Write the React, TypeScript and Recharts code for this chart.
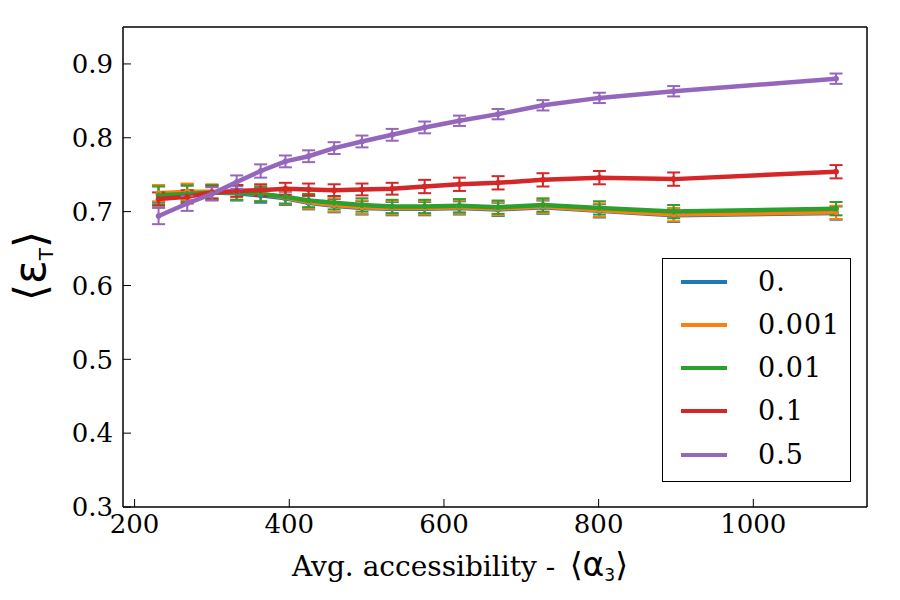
import React from 'react';
import { LineChart, Line, XAxis, YAxis, ErrorBar, Legend } from 'recharts';

const xValues = [231, 268, 300, 332, 363, 395, 425, 458, 494, 533, 575, 620, 670, 728, 801, 897, 1107];

const seriesLabels = ['0.', '0.001', '0.01', '0.1', '0.5'];
const seriesColors = ['#1f77b4', '#ff7f0e', '#2ca02c', '#d62728', '#9467bd'];

const blueValues = [0.724, 0.726, 0.726, 0.725, 0.722, 0.718, 0.712, 0.708, 0.705, 0.704, 0.704, 0.705, 0.703, 0.706, 0.701, 0.695, 0.698];
const blueErrors = [0.011, 0.011, 0.010, 0.010, 0.010, 0.009, 0.009, 0.009, 0.009, 0.009, 0.009, 0.009, 0.009, 0.009, 0.009, 0.009, 0.009];

const orangeValues = [0.725, 0.727, 0.727, 0.726, 0.724, 0.719, 0.713, 0.709, 0.706, 0.705, 0.705, 0.706, 0.704, 0.707, 0.702, 0.696, 0.699];
const orangeErrors = [0.011, 0.011, 0.010, 0.010, 0.010, 0.009, 0.009, 0.009, 0.009, 0.009, 0.009, 0.009, 0.009, 0.009, 0.009, 0.009, 0.009];

const greenValues = [0.722, 0.724, 0.726, 0.726, 0.724, 0.720, 0.715, 0.712, 0.709, 0.707, 0.707, 0.708, 0.706, 0.709, 0.705, 0.700, 0.704];
const greenErrors = [0.012, 0.011, 0.010, 0.010, 0.010, 0.009, 0.009, 0.009, 0.009, 0.009, 0.009, 0.009, 0.009, 0.009, 0.009, 0.009, 0.009];

const redValues = [0.717, 0.720, 0.726, 0.728, 0.729, 0.731, 0.730, 0.729, 0.730, 0.731, 0.734, 0.737, 0.739, 0.743, 0.746, 0.744, 0.754];
const redErrors = [0.009, 0.009, 0.008, 0.008, 0.008, 0.008, 0.008, 0.008, 0.008, 0.008, 0.009, 0.009, 0.009, 0.009, 0.009, 0.009, 0.009];

const purpleValues = [0.694, 0.711, 0.724, 0.740, 0.755, 0.768, 0.775, 0.786, 0.795, 0.804, 0.814, 0.823, 0.832, 0.844, 0.854, 0.863, 0.880];
const purpleErrors = [0.011, 0.010, 0.009, 0.009, 0.009, 0.008, 0.008, 0.008, 0.008, 0.008, 0.008, 0.007, 0.007, 0.007, 0.007, 0.007, 0.007];

const allValues = [blueValues, orangeValues, greenValues, redValues, purpleValues];
const allErrors = [blueErrors, orangeErrors, greenErrors, redErrors, purpleErrors];

const xTicks = [200, 400, 600, 800, 1000];
const yTicks = [0.3, 0.4, 0.5, 0.6, 0.7, 0.8, 0.9];

const data = xValues.map((x, i) => {
  const row: Record<string, number> = { x };
  allValues.forEach((vals, k) => {
    row[`s${k}`] = vals[i];
    row[`e${k}`] = allErrors[k][i];
  });
  return row;
});

const tickFont = { fontFamily: 'DejaVu Serif', fontSize: 26, fill: '#000' };

const XLabel = () => (
  <text x={292} y={576} fontFamily="DejaVu Serif" fontSize={28} fill="#000">
    {'Avg. accessibility -\u00A0\u2009'}
    <tspan fontFamily="DejaVu Sans" fontSize={33}>{'\u27E8\u03B1'}</tspan>
    <tspan fontFamily="DejaVu Sans" fontSize={17} dy={5}>3</tspan>
    <tspan fontFamily="DejaVu Sans" fontSize={33} dy={-5}>{'\u27E9'}</tspan>
  </text>
);

const YLabel = () => (
  <text transform="translate(45, 266) rotate(-90)" x={0} y={0} textAnchor="middle" fontFamily="DejaVu Sans" fontSize={44} fill="#000">
    {'\u27E8\u03B5'}
    <tspan fontSize={20} dy={8}>T</tspan>
    <tspan dy={-8}>{'\u27E9'}</tspan>
  </text>
);

const LegendBox = () => (
  <div
    style={{
      position: 'relative',
      width: 189,
      height: 224,
      border: '1.5px solid #000',
      boxSizing: 'border-box',
      background: '#fff',
    }}
  >
    {seriesLabels.map((label, i) => (
      <div
        key={label}
        style={{ position: 'absolute', left: 0, top: 22.5 + i * 43.3 - 16, height: 32, width: '100%' }}
      >
        <div
          style={{
            position: 'absolute',
            left: 18,
            top: 14,
            width: 46,
            height: 4,
            background: seriesColors[i],
          }}
        />
        <span
          style={{
            position: 'absolute',
            left: 95,
            top: 0,
            lineHeight: '32px',
            fontFamily: 'DejaVu Serif',
            fontSize: 27,
            color: '#000',
            letterSpacing: 1,
            whiteSpace: 'nowrap',
          }}
        >
          {label}
        </span>
      </div>
    ))}
  </div>
);

export default function App() {
  return (
    <div style={{ position: 'absolute', left: 0, top: 0, width: 900, height: 600, background: '#fff' }}>
      <LineChart width={900} height={600} data={data} margin={{ top: 26, right: 32, bottom: 0, left: 0 }}>
        <XAxis
          type="number"
          dataKey="x"
          domain={[185, 1147]}
          ticks={xTicks}
          allowDataOverflow
          height={93}
          tick={tickFont}
          tickSize={-8}
          tickMargin={16}
          axisLine={{ stroke: '#000', strokeWidth: 1.5 }}
          tickLine={{ stroke: '#000', strokeWidth: 1 }}
          label={<XLabel />}
        />
        <XAxis
          xAxisId="top"
          orientation="top"
          type="number"
          domain={[185, 1147]}
          ticks={xTicks}
          allowDataOverflow
          height={1}
          tick={false}
          tickSize={-8}
          axisLine={{ stroke: '#000', strokeWidth: 1.5 }}
          tickLine={{ stroke: '#000', strokeWidth: 1 }}
        />
        <YAxis
          type="number"
          domain={[0.3, 0.95]}
          ticks={yTicks}
          allowDataOverflow
          width={123}
          tick={tickFont}
          tickFormatter={(v: number) => v.toFixed(1)}
          tickSize={-8}
          tickMargin={18}
          axisLine={{ stroke: '#000', strokeWidth: 1.5 }}
          tickLine={{ stroke: '#000', strokeWidth: 1 }}
          label={<YLabel />}
        />
        <YAxis
          yAxisId="right"
          orientation="right"
          type="number"
          domain={[0.3, 0.95]}
          ticks={yTicks}
          allowDataOverflow
          width={1}
          tick={false}
          tickSize={-8}
          axisLine={{ stroke: '#000', strokeWidth: 1.5 }}
          tickLine={{ stroke: '#000', strokeWidth: 1 }}
        />
        {seriesColors.map((color, k) => (
          <Line
            key={k}
            type="linear"
            dataKey={`s${k}`}
            name={seriesLabels[k]}
            stroke={color}
            strokeWidth={4.5}
            dot={{ r: 2.5, fill: color, stroke: color, strokeWidth: 1 }}
            activeDot={false}
            isAnimationActive={false}
          >
            <ErrorBar dataKey={`e${k}`} direction="y" width={6.5} strokeWidth={2} stroke={color} />
          </Line>
        ))}
        <Legend
          layout="vertical"
          align="center"
          verticalAlign="middle"
          content={<LegendBox />}
          wrapperStyle={{ left: 662, top: 258, width: 189, height: 224 }}
        />
      </LineChart>
    </div>
  );
}
